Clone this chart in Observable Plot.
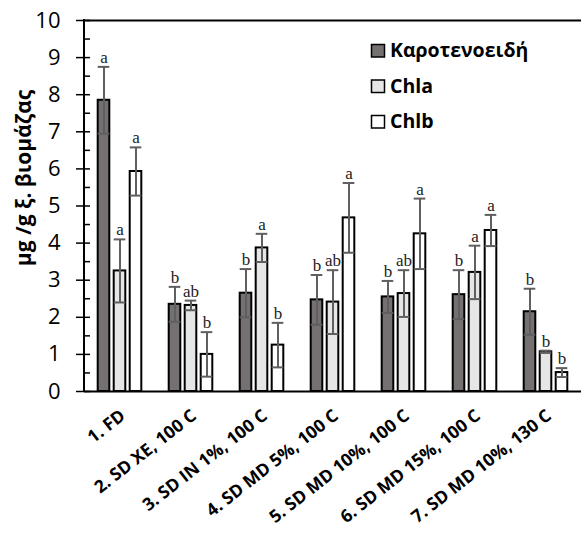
<!DOCTYPE html>
<html><head><meta charset="utf-8">
<script src="https://cdn.jsdelivr.net/npm/d3@7"></script>
<script src="https://cdn.jsdelivr.net/npm/@observablehq/plot@0.6"></script>
<style>
body{margin:0;background:#fff}
#chart{position:relative;width:581px;height:538px}
#chart g[aria-label="x-axis tick label"] text{font-weight:700}
</style>
</head><body><div id="chart"></div>
<script>
const groups = ["1. FD","2. SD XE, 100 C","3. SD IN 1%, 100 C","4. SD MD 5%, 100 C","5. SD MD 10%, 100 C","6. SD MD 15%, 100 C","7. SD MD 10%, 130 C"];
const seriesNames = ["Καροτενοειδή","Chla","Chlb"];
const carotenoids = [7.85,2.35,2.65,2.47,2.55,2.61,2.15];
const carotenoidsErr = [0.9,0.47,0.65,0.67,0.43,0.66,0.62];
const carotenoidsLetters = ["a","b","b","b","b","b","b"];
const chla = [3.25,2.32,3.87,2.41,2.64,3.21,1.07];
const chlaErr = [0.85,0.13,0.38,0.86,0.63,0.72,0.03];
const chlaLetters = ["a","ab","a","ab","ab","a","b"];
const chlb = [5.93,1.0,1.25,4.68,4.25,4.34,0.51];
const chlbErr = [0.65,0.6,0.6,0.94,0.95,0.42,0.12];
const chlbLetters = ["a","b","b","a","a","a","b"];
const yTicks = [0,1,2,3,4,5,6,7,8,9,10];
const yMinorTicks = [0,0.5,1,1.5,2,2.5,3,3.5,4,4.5,5,5.5,6,6.5,7,7.5,8,8.5,9,9.5,10];
const yTitle = "μg /g ξ. βιομάζας";

const series = [
  {name: seriesNames[0], values: carotenoids, err: carotenoidsErr, letters: carotenoidsLetters, fill: "#767171", dx: -16},
  {name: seriesNames[1], values: chla, err: chlaErr, letters: chlaLetters, fill: "#e7e6e6", dx: 0},
  {name: seriesNames[2], values: chlb, err: chlbErr, letters: chlbLetters, fill: "#ffffff", dx: 16}
];
const idx = d3.range(groups.length);
const inset = 29.7;
const errColor = "#5f5f5f";

const marks = [
  Plot.axisY(yMinorTicks, {tickSize: -6, tickFormat: () => "", strokeWidth: 1.5}),
  Plot.axisY(yTicks, {tickSize: 8, tickPadding: 16, fontSize: 22, fontFamily: "Open Sans", fill: "#000", strokeWidth: 1.5}),
  Plot.axisX({tickSize: 0, tickRotate: -38, tickPadding: 22, dx: 3, fontSize: 17.5, fontWeight: 700, fontFamily: "Open Sans", fill: "#000"})
];
for (const s of series) {
  marks.push(Plot.barY(idx, {x: i => groups[i], y: i => s.values[i], fill: s.fill, stroke: "#000", strokeWidth: 2, insetLeft: inset, insetRight: inset, dx: s.dx}));
}
for (const s of series) {
  marks.push(Plot.ruleX(idx, {x: i => groups[i], y1: i => s.values[i] - s.err[i], y2: i => s.values[i] + s.err[i], stroke: errColor, strokeWidth: 2, dx: s.dx}));
  marks.push(Plot.tickY(idx, {x: i => groups[i], y: i => s.values[i] + s.err[i], stroke: errColor, strokeWidth: 2, insetLeft: inset, insetRight: inset, dx: s.dx}));
  marks.push(Plot.tickY(idx, {x: i => groups[i], y: i => s.values[i] - s.err[i], stroke: errColor, strokeWidth: 2, insetLeft: inset, insetRight: inset, dx: s.dx}));
  marks.push(Plot.text(idx, {x: i => groups[i], y: i => s.values[i] + s.err[i], text: i => s.letters[i], dx: s.dx, dy: -4, lineAnchor: "bottom", fontFamily: "Liberation Serif", fontSize: 17, fill: "#222"}));
}
marks.push(Plot.ruleY([0, 10], {stroke: "#000", strokeWidth: 2}));

const svg = Plot.plot({
  width: 581, height: 538,
  marginLeft: 84, marginRight: 0, marginTop: 20, marginBottom: 147,
  style: {background: "#fff", fontFamily: "Open Sans", overflow: "visible"},
  x: {domain: groups, padding: 0, label: null},
  y: {domain: [0, 10], label: null},
  marks
});

const sel = d3.select(svg);
const yScale = svg.scale("y");
sel.append("line")
  .attr("x1", 84).attr("x2", 84)
  .attr("y1", yScale.apply(10) - 1).attr("y2", yScale.apply(0) + 1)
  .attr("stroke", "#000").attr("stroke-width", 2);

sel.append("text")
  .attr("transform", "translate(23,178) rotate(-90)")
  .attr("text-anchor", "middle").attr("dominant-baseline", "central")
  .attr("font-family", "Open Sans").attr("font-weight", 700).attr("font-size", 21)
  .attr("fill", "#000")
  .text(yTitle);

const leg = sel.append("g");
series.forEach((s, k) => {
  const y0 = 57 + k * 35.5;
  leg.append("rect").attr("x", 371.5).attr("y", y0 - 12.5).attr("width", 13).attr("height", 12.5)
    .attr("fill", s.fill).attr("stroke", "#000").attr("stroke-width", 1.5);
  leg.append("text").attr("x", 390).attr("y", y0)
    .attr("text-anchor", "start")
    .attr("font-family", "Open Sans").attr("font-weight", 700).attr("font-size", 19.5).attr("fill", "#000")
    .text(s.name);
});

document.getElementById("chart").appendChild(svg);
</script>
</body></html>
